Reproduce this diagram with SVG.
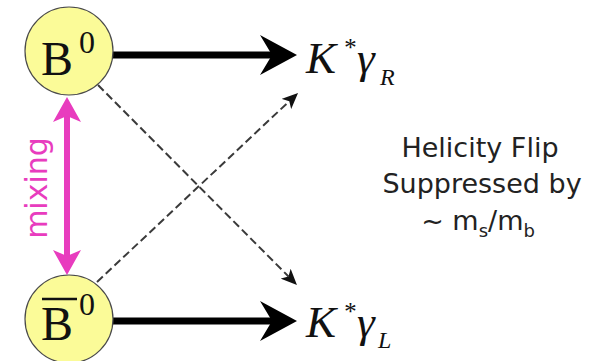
<svg xmlns="http://www.w3.org/2000/svg" width="593" height="361" viewBox="0 0 593 361">
<style>
.node circle{fill:#fbfb98;stroke:#4a4a4a;stroke-width:1.2}
.bt{font-family:"Liberation Serif",serif;fill:#111}
.math{font-family:"Liberation Serif",serif;font-style:italic;fill:#111}
.note{font-family:"DejaVu Sans",Verdana,sans-serif;font-size:27px;fill:#222;text-anchor:middle}
.mix{font-family:"DejaVu Sans",Verdana,sans-serif;font-size:30px;fill:#e83cbe;text-anchor:middle}
.thick{stroke:#000;stroke-width:7;fill:none;marker-end:url(#bigHead)}
.dash{stroke:#3a3a3a;stroke-width:2;stroke-dasharray:8 4;fill:none;marker-end:url(#smallHead)}
.pink{stroke:#e83cbe;stroke-width:6;fill:none;marker-start:url(#pinkHead);marker-end:url(#pinkHead)}
</style>
<defs>
<marker id="bigHead" markerUnits="userSpaceOnUse" viewBox="0 0 37 40" refX="12" refY="20" markerWidth="37" markerHeight="40" orient="auto">
<path d="M0,0 L37,20 L0,40 L12,20 Z" fill="#000"/>
</marker>
<marker id="smallHead" markerUnits="userSpaceOnUse" viewBox="0 0 16 14" refX="4" refY="7" markerWidth="16" markerHeight="14" orient="auto">
<path d="M0,0 L16,7 L0,14 L4,7 Z" fill="#111"/>
</marker>
<marker id="pinkHead" markerUnits="userSpaceOnUse" viewBox="0 0 25 28" refX="6" refY="14" markerWidth="25" markerHeight="28" orient="auto-start-reverse">
<path d="M0,0 L25,14 L0,28 L6,14 Z" fill="#e83cbe"/>
</marker>
</defs>
<rect width="593" height="361" fill="#fff"/>
<g id="connectors">
<line class="thick" x1="113" y1="55" x2="272" y2="55"/>
<line class="thick" x1="113" y1="321" x2="272" y2="321"/>
<line class="dash" x1="98" y1="85" x2="288.5" y2="276.5"/>
<line class="dash" x1="97" y1="282" x2="289.3" y2="101.2"/>
<line class="pink" x1="67" y1="116" x2="67" y2="256"/>
</g>
<g id="B0" class="node">
<circle cx="69" cy="51" r="44"/>
<text class="bt" x="41" y="75" font-size="48">B</text>
<text class="bt" x="79" y="53" font-size="32">0</text>
</g>
<g id="B0bar" class="node">
<circle cx="69" cy="319" r="44"/>
<line x1="42" y1="299" x2="77" y2="299" stroke="#111" stroke-width="2.5"/>
<text class="bt" x="41" y="340" font-size="48">B</text>
<text class="bt" x="79" y="315" font-size="32">0</text>
</g>
<g id="KgR">
<text class="math" x="306" y="73" font-size="45">K</text>
<text class="math" x="343" y="56" font-size="25">*</text>
<text class="math" x="357" y="73" font-size="45">γ</text>
<text class="math" x="380" y="85" font-size="24">R</text>
</g>
<g id="KgL">
<text class="math" x="306" y="337" font-size="45">K</text>
<text class="math" x="343" y="320" font-size="25">*</text>
<text class="math" x="357" y="337" font-size="45">γ</text>
<text class="math" x="378" y="348" font-size="24">L</text>
</g>
<g id="note">
<text class="note" x="480" y="157">Helicity Flip</text>
<text class="note" x="482" y="193">Suppressed by</text>
<text class="note" x="478" y="230">~ m<tspan font-size="18" dy="7">s</tspan><tspan dy="-7">/m</tspan><tspan font-size="18" dy="7">b</tspan></text>
</g>
<g id="mixing">
<text class="mix" transform="translate(47,188) rotate(-90)">mixing</text>
</g>
</svg>
